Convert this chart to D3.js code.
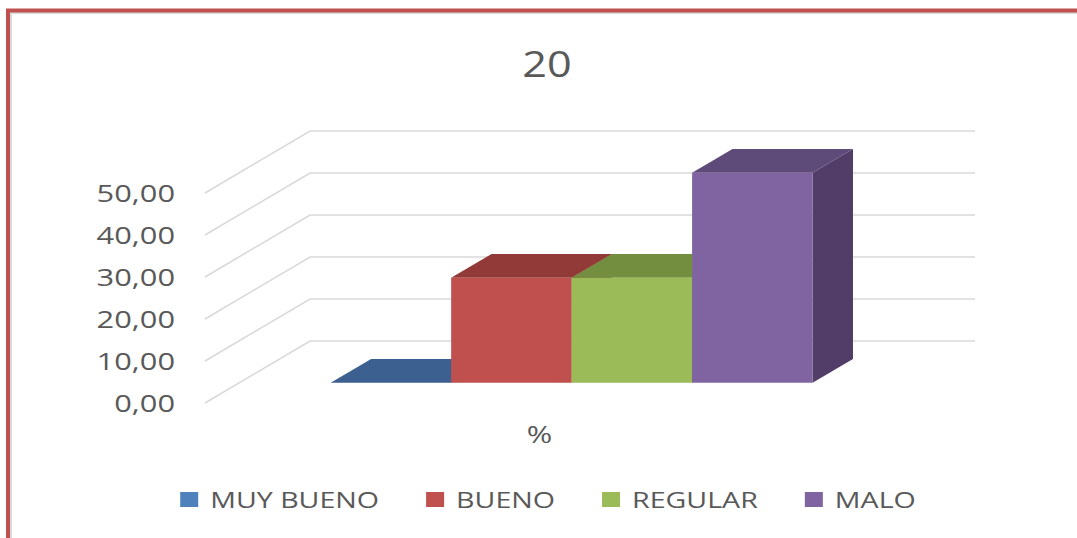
<!DOCTYPE html>
<html>
<head>
<meta charset="utf-8">
<script src="https://cdn.jsdelivr.net/npm/d3@7"></script>
<style>
  body { margin: 0; background: #fff; }
  svg { display: block; font-family: "Open Sans", sans-serif; }
</style>
</head>
<body>
<div id="chart"></div>
<script>
// chart data
const title = "20";
const categories = ["%"];
const series = ["MUY BUENO", "BUENO", "REGULAR", "MALO"];
const values = [0, 25, 25, 50];
const yTicks = [0, 10, 20, 30, 40, 50];

const colors = {
  front: ["#4f81bd", "#c0504d", "#9bbb59", "#8064a2"],
  top:   ["#3c6190", "#913a37", "#738e3f", "#5f4b7a"],
  side:  ["#34557f", "#7f3230", "#657c37", "#523d68"]
};

const width = 1077, height = 538;
const sx = 1.34; // the picture is stretched sideways

const svg = d3.select("#chart")
    .append("svg")
    .attr("width", width)
    .attr("height", height);

// frame
svg.append("rect")
    .attr("x", 11).attr("y", 13)
    .attr("width", 1200).attr("height", 700)
    .attr("fill", "none")
    .attr("stroke", "#d9d9d9")
    .attr("stroke-width", 2);
svg.append("rect")
    .attr("x", 8).attr("y", 10.5)
    .attr("width", 1200).attr("height", 700)
    .attr("fill", "none")
    .attr("stroke", "#c0504d")
    .attr("stroke-width", 4);

// scales (front plane of the floor)
const x0 = d3.scaleBand()
    .domain(categories)
    .range([205, 870]);

const x1 = d3.scaleBand()
    .domain(series)
    .range([0, x0.bandwidth()])
    .paddingInner(0)
    .paddingOuter(0.76);

const y = d3.scaleLinear()
    .domain([0, 50])
    .range([403, 193]);

// depth of the box: back wall offset
const depth = { dx: 105, dy: -62 };
const barFront = 0.325, barBack = 0.71;

function proj(xw, v, t) {
  return [xw + depth.dx * t, y(v) + depth.dy * t];
}

// gridlines on side wall and back wall
const grid = svg.append("g");
yTicks.forEach(v => {
  const a = proj(205, v, 0), b = proj(205, v, 1), c = proj(870, v, 1);
  grid.append("polyline")
      .attr("points", [a, b, c].map(p => p.join(",")).join(" "))
      .attr("fill", "none")
      .attr("stroke", "#d9d9d9")
      .attr("stroke-width", 1.6);
});

// y axis labels
const fmt = d3.formatLocale({ decimal: ",", thousands: ".", grouping: [3], currency: ["", ""] }).format(".2f");
const yAxis = svg.append("g")
    .attr("transform", "translate(205,0)")
    .call(d3.axisLeft(y).tickValues(yTicks).tickSize(0).tickPadding(30).tickFormat(fmt));
yAxis.select(".domain").remove();
yAxis.selectAll("text")
    .attr("x", -30 / sx)
    .attr("dy", "0.36em")
    .attr("transform", `scale(${sx},1)`)
    .style("font-family", "Open Sans")
    .style("font-size", "23px")
    .attr("fill", "#595959");

// 3D bars
const bars = svg.append("g");
series.forEach((s, i) => {
  const xl = x0(categories[0]) + x1(s);
  const xr = xl + x1.bandwidth();
  const v = values[i];
  const pts = arr => arr.map(p => p.join(",")).join(" ");

  // side
  bars.append("polygon")
      .attr("points", pts([proj(xr, 0, barFront), proj(xr, 0, barBack), proj(xr, v, barBack), proj(xr, v, barFront)]))
      .attr("fill", colors.side[i]);
  // top
  bars.append("polygon")
      .attr("points", pts([proj(xl, v, barFront), proj(xl, v, barBack), proj(xr, v, barBack), proj(xr, v, barFront)]))
      .attr("fill", colors.top[i]);
  // front
  bars.append("polygon")
      .attr("points", pts([proj(xl, 0, barFront), proj(xl, v, barFront), proj(xr, v, barFront), proj(xr, 0, barFront)]))
      .attr("fill", colors.front[i]);
});

// category label
svg.append("g")
    .attr("transform", `translate(${x0(categories[0]) + x0.bandwidth() / 2 + 2},443) scale(${sx},1)`)
    .append("text")
    .attr("text-anchor", "middle")
    .style("font-size", "23px")
    .attr("fill", "#595959")
    .text(categories[0]);

// title
svg.append("g")
    .attr("transform", `translate(547,77) scale(1.2,1)`)
    .append("text")
    .attr("text-anchor", "middle")
    .style("font-size", "36px")
    .attr("fill", "#595959")
    .text(title);

// legend
const legend = svg.append("g");
const items = legend.selectAll("g")
    .data(series)
    .enter().append("g");

items.append("rect")
    .attr("y", 492)
    .attr("width", 18)
    .attr("height", 15)
    .attr("fill", (d, i) => colors.front[i]);

const lsx = 1.3;
const labels = items.append("g")
    .attr("transform", `translate(30,507.5) scale(${lsx},1)`)
    .append("text")
    .style("font-size", "22px")
    .attr("fill", "#595959")
    .text(d => d);

const widths = [];
labels.each(function() { widths.push(this.getComputedTextLength() * lsx); });
const gap = 47;
const itemW = widths.map(w => 30 + w);
const total = d3.sum(itemW) + gap * (series.length - 1);
let cx = 548 - total / 2;
items.attr("transform", (d, i) => {
  const t = `translate(${cx},0)`;
  cx += itemW[i] + gap;
  return t;
});
</script>
</body>
</html>
